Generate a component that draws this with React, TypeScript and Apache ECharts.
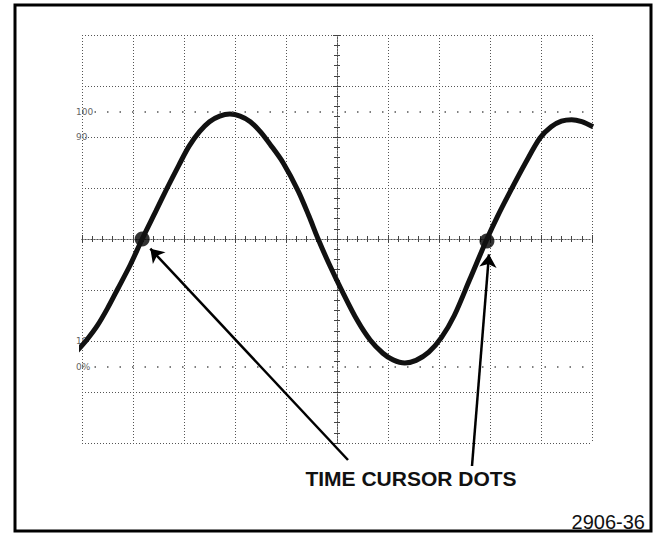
import React, { useEffect, useRef } from "react";
import * as echarts from "echarts";

// Waveform (x, y in graticule divisions, origin at centre)
const waveX = [-5.1, -4.9, -4.7, -4.5, -4.3, -4.05, -3.82, -3.55, -3.33, -3.1, -2.9, -2.7, -2.5, -2.3, -2.1, -1.9, -1.7, -1.5, -1.3, -1.06, -0.76, -0.55, -0.37, -0.15, 0.1, 0.4, 0.65, 0.9, 1.1, 1.33, 1.55, 1.8, 2.05, 2.3, 2.6, 2.94, 3.15, 3.39, 3.7, 3.98, 4.2, 4.4, 4.6, 4.8, 5.02];
const waveY = [-2.2, -1.97, -1.7, -1.36, -0.98, -0.5, 0, 0.55, 1.0, 1.45, 1.82, 2.1, 2.3, 2.41, 2.45, 2.41, 2.3, 2.1, 1.84, 1.5, 0.94, 0.45, 0, -0.5, -1.02, -1.6, -1.98, -2.24, -2.37, -2.43, -2.38, -2.22, -1.93, -1.5, -0.8, 0, 0.45, 0.92, 1.5, 1.98, 2.2, 2.31, 2.34, 2.3, 2.2];

// Time cursor dots
const cursorX = [-3.82, 2.94];
const cursorY = [0, -0.04];

// Arrow heads (data coords) and tails (pixel positions near the caption)
const arrowHeadX = [-3.66, 2.98];
const arrowHeadY = [-0.19, -0.3];
const arrowTailPx = [348, 472];
const arrowTailPy = [460, 466];

// Percentage level marks on the left of the graticule
const levelValues = [2.5, 2, -2, -2.5];
const levelTexts = ["100", "90", "10", "0%"];
const dottedLevels = [2.5, -2.5];

const caption = "TIME CURSOR DOTS";
const figureId = "2906-36";

export default function App() {
  const ref = useRef<HTMLDivElement>(null);
  useEffect(() => {
    if (!ref.current) return;
    const chart = echarts.init(ref.current, null, { renderer: "svg" });
    const gridLine = { color: "#555", type: [1, 2], width: 1 };
    const tickStyle = { color: "#444", width: 1 };
    const baseX = {
      type: "value",
      min: -5,
      max: 5,
      interval: 1,
      axisLabel: { show: false },
    };
    const baseY = {
      type: "value",
      min: -4,
      max: 4,
      interval: 1,
      axisLabel: { show: false },
    };
    chart.setOption({
      animation: false,
      backgroundColor: "#ffffff",
      grid: { left: 82, top: 35, width: 510, height: 408, containLabel: false, outerBoundsMode: "none" },
      xAxis: [
        {
          ...baseX,
          position: "bottom",
          axisLine: { show: true, onZero: true, lineStyle: gridLine },
          axisTick: { show: true, length: 4, lineStyle: tickStyle },
          minorTick: { show: true, splitNumber: 5, length: 3, lineStyle: tickStyle },
          splitLine: { show: true, lineStyle: gridLine },
        },
        {
          ...baseX,
          position: "top",
          axisLine: { show: true, onZero: true, lineStyle: gridLine },
          axisTick: { show: true, length: 4, lineStyle: tickStyle },
          minorTick: { show: true, splitNumber: 5, length: 3, lineStyle: tickStyle },
          splitLine: { show: false },
        },
      ],
      yAxis: [
        {
          ...baseY,
          position: "left",
          axisLine: { show: true, onZero: true, lineStyle: gridLine },
          axisTick: { show: true, length: 4, lineStyle: tickStyle },
          minorTick: { show: true, splitNumber: 5, length: 3, lineStyle: tickStyle },
          splitLine: { show: true, lineStyle: gridLine },
        },
        {
          ...baseY,
          position: "right",
          axisLine: { show: true, onZero: true, lineStyle: gridLine },
          axisTick: { show: true, length: 4, lineStyle: tickStyle },
          minorTick: { show: true, splitNumber: 5, length: 3, lineStyle: tickStyle },
          splitLine: { show: false },
        },
        {
          type: "value",
          min: -4,
          max: 4,
          interval: 0.5,
          position: "left",
          axisLine: { show: false, onZero: false },
          axisTick: { show: false },
          splitLine: { show: false },
          axisLabel: {
            show: true,
            align: "left",
            margin: 6,
            fontSize: 9,
            color: "#666",
            fontFamily: "DejaVu Sans",
            formatter: (v: number) => {
              const i = levelValues.findIndex((lv) => Math.abs(lv - v) < 1e-6);
              return i >= 0 ? levelTexts[i] : "";
            },
          },
        },
      ],
      series: [
        {
          type: "line",
          xAxisIndex: 0,
          yAxisIndex: 0,
          data: waveX.map((x, i) => [x, waveY[i]]),
          smooth: 0.3,
          symbol: "none",
          showSymbol: false,
          clip: false,
          silent: true,
          lineStyle: { color: "#111", width: 5 },
          markLine: {
            silent: true,
            symbol: ["none", "none"],
            label: { show: false },
            lineStyle: { color: "#555", type: [1.5, 11], width: 1.5 },
            data: dottedLevels.map((v) => ({ yAxis: v })),
          },
        },
        {
          type: "scatter",
          xAxisIndex: 0,
          yAxisIndex: 0,
          data: cursorX.map((x, i) => [x, cursorY[i]]),
          symbol: "circle",
          symbolSize: 15,
          clip: false,
          silent: true,
          itemStyle: { color: "#000" },
          markLine: {
            silent: true,
            symbol: ["none", "arrow"],
            symbolSize: 13,
            label: { show: false },
            lineStyle: { color: "#000", type: "solid", width: 2.5 },
            data: arrowHeadX.map((hx, i) => [
              { x: arrowTailPx[i], y: arrowTailPy[i] },
              { coord: [hx, arrowHeadY[i]] },
            ]),
          },
        },
      ],
      graphic: [
        {
          type: "rect",
          shape: { x: 15, y: 5, width: 636, height: 526 },
          style: { fill: "none", stroke: "#000", lineWidth: 3 },
          silent: true,
        },
        {
          type: "text",
          x: 411,
          y: 478.5,
          style: {
            text: caption,
            font: 'bold 21px "Liberation Sans", Arial, sans-serif',
            fill: "#111",
            align: "center",
            verticalAlign: "middle",
          },
        },
        {
          type: "text",
          x: 645,
          y: 521.5,
          style: {
            text: figureId,
            font: '20px "Liberation Sans", Arial, sans-serif',
            fill: "#111",
            align: "right",
            verticalAlign: "middle",
          },
        },
      ],
    });
    return () => chart.dispose();
  }, []);
  return (
    <div
      ref={ref}
      style={{ position: "fixed", left: 0, top: 0, width: 653, height: 535, background: "#fff" }}
    />
  );
}
